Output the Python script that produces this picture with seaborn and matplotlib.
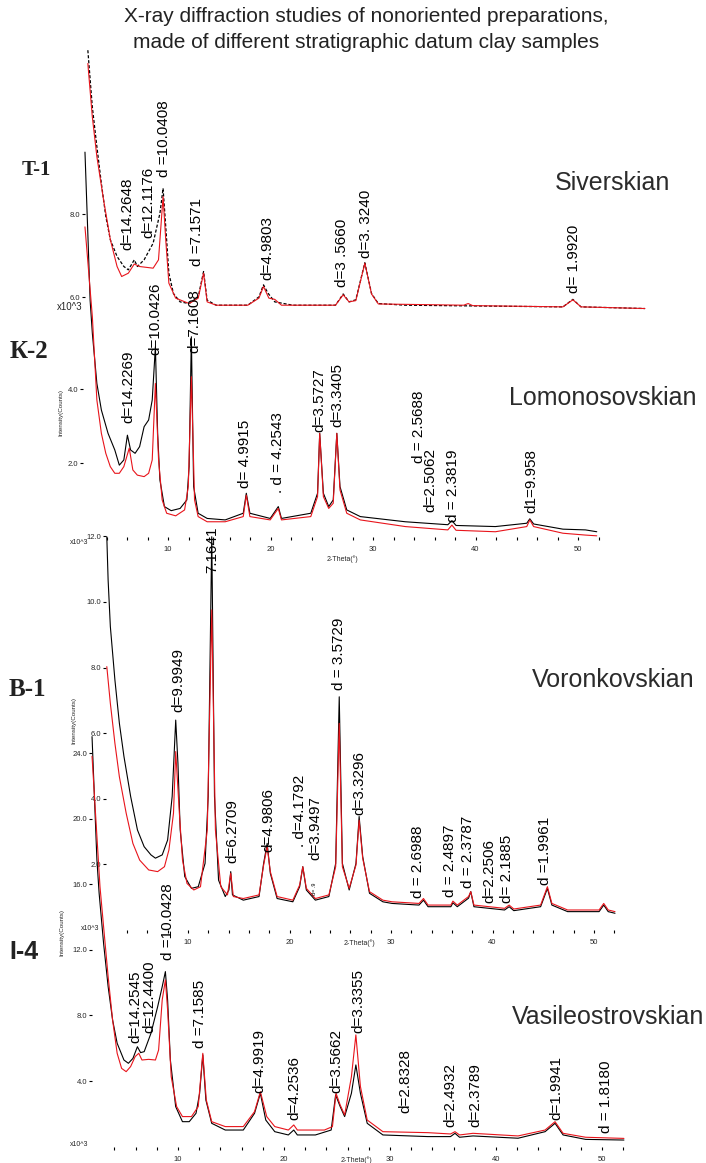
import numpy as np
import pandas as pd
import matplotlib
matplotlib.use("Agg")
import matplotlib.pyplot as plt
from matplotlib.ticker import FuncFormatter
import seaborn as sns

# -------------- figure size in pixels --------------
W, H = 706, 1163

# -------------- T-1  (Siverskian) --------------
t1_black_tt = [2.02, 2.42, 2.83, 3.23, 3.63, 4.04, 4.64, 5.25, 5.65, 6.18, 6.46, 7.06, 7.87, 8.48, 8.76, 9.00,
               9.28, 9.69, 10.29, 11.10, 11.91, 12.39, 12.71, 13.52, 16.35, 17.35, 17.76, 18.16, 18.77, 20.38,
               24.21, 24.90, 25.43, 26.03, 26.84, 27.44, 28.05, 30.47, 44.59, 45.48, 46.21, 51.94]
t1_black_int = [11.94, 10.58, 9.62, 8.74, 7.94, 7.38, 6.98, 6.74, 6.66, 6.90, 6.74, 6.90, 7.30, 8.02, 8.62, 7.70,
                6.58, 6.09, 5.89, 5.85, 6.01, 6.62, 5.93, 5.81, 5.81, 6.01, 6.30, 6.10, 5.89, 5.81,
                5.81, 6.08, 5.89, 5.94, 6.83, 6.09, 5.85, 5.81, 5.77, 5.95, 5.77, 5.73]
t1_red_tt = [2.02, 2.42, 2.83, 3.43, 4.04, 4.64, 5.05, 5.65, 6.18, 6.66, 7.87, 8.35, 8.76, 9.00, 9.28, 9.89,
             11.10, 11.91, 12.39, 12.71, 13.52, 16.35, 17.35, 17.76, 18.24, 18.77, 19.37, 24.21, 24.90, 25.43,
             26.03, 26.84, 27.44, 28.05, 35.70, 36.10, 36.50, 44.59, 45.48, 46.21, 51.94]
t1_red_int = [11.62, 10.34, 9.38, 8.34, 7.38, 6.74, 6.50, 6.58, 6.80, 6.74, 6.70, 6.90, 8.42, 7.38, 6.34, 5.98,
              5.85, 5.98, 6.58, 5.89, 5.81, 5.81, 5.98, 6.26, 5.98, 5.95, 5.81, 5.81, 6.06, 5.89,
              5.92, 6.82, 6.08, 5.84, 5.81, 5.85, 5.80, 5.77, 5.94, 5.77, 5.73]
t1_labels = ["d=14.2648", "d=12.1176", "d =10.0408", "d =7.1571", "d=4.9803", "d=3 .5660", "d=3. 3240", "d= 1.9920"]
t1_label_tt = [5.57, 7.41, 8.84, 11.80, 18.07, 24.79, 26.94, 45.58]
t1_label_y = [7.14, 7.43, 8.89, 6.75, 6.42, 6.25, 6.94, 6.10]

# -------------- K-2  (Lomonosovskian) --------------
k2_black_tt = [1.90, 2.20, 2.40, 2.62, 3.06, 3.50, 4.15, 4.81, 5.25, 5.69, 6.04, 6.35, 6.79, 7.23, 7.67, 8.11,
               8.46, 8.77, 8.99, 9.21, 9.65, 10.31, 11.18, 11.84, 12.06, 12.28, 12.50, 12.94, 13.82, 15.58,
               17.34, 17.64, 17.99, 19.97, 20.76, 21.07, 23.93, 24.59, 24.80, 25.16, 25.68, 26.12, 26.47, 26.78,
               27.44, 28.76, 33.15, 37.30, 37.70, 38.10, 41.94, 45.00, 45.30, 45.67, 48.53, 50.73, 51.83]
k2_black_int = [10.41, 8.04, 6.41, 5.51, 4.16, 3.44, 2.81, 2.36, 1.95, 2.09, 2.76, 2.36, 2.27, 2.45, 2.99, 3.17,
                3.71, 5.15, 2.81, 1.55, 0.83, 0.72, 0.78, 1.01, 1.91, 5.42, 1.37, 0.65, 0.51, 0.47,
                0.65, 1.19, 0.65, 0.51, 0.83, 0.51, 0.65, 1.19, 2.81, 1.19, 0.83, 1.01, 2.81, 1.37,
                0.74, 0.56, 0.42, 0.34, 0.45, 0.32, 0.29, 0.38, 0.50, 0.36, 0.22, 0.20, 0.15]
k2_red_tt = [1.90, 2.62, 3.06, 3.50, 3.93, 4.37, 4.81, 5.25, 5.69, 6.22, 6.57, 7.01, 7.67, 8.11, 8.46, 8.77,
             9.08, 9.43, 9.87, 10.75, 11.62, 11.98, 12.28, 12.59, 12.94, 13.82, 15.58, 17.34, 17.64, 17.99,
             19.97, 20.76, 21.07, 23.93, 24.59, 24.80, 25.16, 25.68, 26.12, 26.47, 26.78, 27.44, 28.76, 33.15,
             37.30, 37.70, 38.10, 41.94, 45.00, 45.30, 45.67, 48.53, 50.73, 51.83]
k2_red_int = [8.39, 5.96, 3.71, 2.81, 2.27, 1.91, 1.73, 1.73, 1.91, 2.41, 1.82, 1.68, 1.64, 1.73, 2.09, 4.16,
              2.09, 1.01, 0.65, 0.58, 0.74, 1.37, 4.34, 1.01, 0.56, 0.42, 0.42, 0.56, 1.14, 0.56,
              0.47, 0.78, 0.47, 0.56, 1.10, 2.81, 1.10, 0.78, 0.92, 2.81, 1.28, 0.65, 0.47, 0.29,
              0.20, 0.33, 0.19, 0.15, 0.29, 0.47, 0.29, 0.11, 0.06, 0.04]
k2_labels = ["d=14.2269", "d=10.0426", "d=7.1608", "d= 4.9915", ". d = 4.2543", "d=3.5727", "d=3.3405",
             "d = 2.5688", "d=2.5062", "d = 2.3819", "d1=9.958"]
k2_label_tt = [6.10, 8.73, 12.54, 17.51, 20.73, 24.73, 26.49, 34.50, 35.56, 37.80, 45.41]
k2_label_y = [3.09, 4.93, 4.98, 1.33, 1.20, 2.85, 2.98, 2.01, 0.68, 0.41, 0.66]

# -------------- B-1  (Voronkovskian) --------------
v1_black_tt = [2.00, 2.13, 2.35, 2.80, 3.24, 3.69, 4.35, 5.02, 5.68, 6.35, 6.79, 7.46, 7.99, 8.44, 8.79, 9.01,
               9.23, 9.68, 10.34, 11.01, 11.68, 11.99, 12.34, 12.61, 13.01, 13.67, 14.03, 14.21, 14.38, 15.45,
               17.00, 17.45, 17.80, 18.11, 18.78, 20.33, 21.00, 21.31, 21.66, 22.55, 23.88, 24.55, 24.90, 25.21,
               25.88, 26.55, 26.86, 27.21, 27.88, 29.20, 30.10, 32.76, 33.20, 33.65, 35.90, 36.10, 36.53, 37.64,
               37.86, 38.17, 41.19, 41.64, 42.10, 44.74, 45.41, 45.85, 47.40, 50.50, 50.96, 51.40, 52.07]
v1_black_int = [11.99, 10.67, 9.25, 7.62, 6.30, 5.29, 4.07, 3.05, 2.54, 2.29, 2.19, 2.29, 2.74, 4.07, 6.40, 5.08,
                3.05, 1.63, 1.27, 1.32, 2.03, 4.07, 11.99, 4.07, 1.52, 1.02, 1.22, 1.78, 1.07, 0.91,
                1.02, 2.03, 2.64, 1.73, 0.96, 0.86, 1.32, 1.93, 1.22, 0.91, 1.02, 2.03, 7.11, 2.03,
                1.22, 2.03, 3.46, 2.24, 1.12, 0.86, 0.81, 0.76, 0.91, 0.71, 0.71, 0.83, 0.71, 0.97,
                1.17, 0.71, 0.61, 0.71, 0.59, 0.71, 1.27, 0.76, 0.56, 0.56, 0.76, 0.56, 0.51]
v1_red_tt = [2.00, 2.35, 2.80, 3.24, 3.91, 4.57, 5.24, 6.13, 7.01, 7.68, 8.12, 8.57, 8.79, 9.15, 9.46, 9.90,
             10.57, 11.23, 11.90, 12.34, 12.70, 13.23, 13.89, 14.21, 14.47, 15.45, 17.00, 17.45, 17.80, 18.11,
             18.78, 20.33, 21.00, 21.31, 21.66, 22.55, 23.88, 24.55, 24.90, 25.21, 25.88, 26.55, 26.86, 27.21,
             27.88, 29.20, 30.10, 32.76, 33.20, 33.65, 35.90, 36.10, 36.53, 37.64, 37.86, 38.17, 41.19, 41.64,
             42.10, 44.74, 45.41, 45.85, 47.40, 50.50, 50.96, 51.40, 52.07]
v1_red_int = [8.03, 6.91, 5.69, 4.67, 3.56, 2.64, 2.13, 1.83, 1.78, 1.93, 2.44, 3.56, 5.44, 3.56, 2.13, 1.42,
              1.22, 1.32, 3.05, 9.76, 3.05, 1.32, 1.07, 1.73, 1.02, 0.96, 1.07, 1.98, 2.54, 1.78,
              1.02, 0.91, 1.37, 1.93, 1.27, 0.96, 1.07, 1.93, 6.30, 1.93, 1.27, 1.98, 3.35, 2.19,
              1.17, 0.91, 0.86, 0.81, 0.96, 0.76, 0.76, 0.88, 0.76, 1.02, 1.17, 0.76, 0.66, 0.76,
              0.64, 0.76, 1.32, 0.81, 0.61, 0.61, 0.81, 0.61, 0.56]
v1_labels = ["d=9.9949", "7.1641", "d=6.2709", "d=4.9806", ". d=4.1792", "d=3.9497", "d = 3.5729", "d=3.3296",
             "d = 2.6988", "d = 2.4897", "d = 2.3787", "d=2.2506", "d= 2.1885", "d =1.9961"]
v1_label_tt = [9.01, 12.36, 14.33, 17.88, 21.03, 22.51, 24.88, 26.85, 32.66, 35.81, 37.59, 39.66, 41.43, 45.17]
v1_label_y = [6.65, 10.88, 2.04, 2.38, 2.53, 2.13, 7.32, 3.51, 0.98, 1.01, 1.28, 0.82, 0.82, 1.37]

# -------------- I-4  (Vasileostrovskian) --------------
i4_black_tt = [1.89, 2.35, 2.56, 2.98, 3.41, 3.83, 4.26, 4.90, 5.32, 5.75, 6.17, 6.47, 6.81, 7.45, 8.08, 8.51,
               8.81, 9.02, 9.28, 9.78, 10.42, 11.06, 11.70, 12.04, 12.34, 12.63, 13.18, 14.46, 16.16, 17.22,
               17.77, 18.28, 19.13, 20.41, 20.92, 21.26, 22.96, 24.45, 24.87, 25.30, 25.72, 26.36, 26.78, 27.21,
               27.85, 29.33, 33.58, 35.71, 36.13, 36.56, 37.83, 42.08, 44.63, 45.57, 46.33, 48.46, 52.07]
i4_black_int = [25.0, 17.48, 15.44, 12.39, 9.75, 7.72, 6.30, 5.28, 5.08, 5.38, 6.09, 5.73, 5.79, 6.91, 8.53, 9.75,
                10.67, 8.94, 5.28, 2.44, 1.52, 1.52, 2.03, 3.25, 5.59, 2.84, 1.42, 1.01, 1.01, 2.03,
                3.25, 1.62, 0.91, 0.71, 1.01, 0.71, 0.71, 1.01, 3.15, 2.44, 1.83, 3.25, 4.98, 3.25,
                1.42, 0.71, 0.61, 0.61, 0.81, 0.57, 0.65, 0.51, 0.91, 1.42, 0.71, 0.44, 0.40]
i4_red_tt = [1.89, 2.64, 2.98, 3.41, 3.83, 4.26, 4.68, 5.11, 5.53, 5.96, 6.30, 6.60, 7.23, 7.87, 8.17, 8.51,
             8.81, 9.02, 9.36, 9.87, 10.42, 11.27, 11.91, 12.34, 12.67, 13.18, 14.46, 16.16, 17.22, 17.77,
             18.37, 19.13, 20.41, 20.92, 21.26, 23.81, 24.57, 24.91, 25.30, 25.72, 26.36, 26.78, 27.21, 27.85,
             29.33, 33.58, 35.71, 36.13, 36.56, 37.83, 42.08, 44.63, 45.57, 46.33, 48.46, 52.07]
i4_red_int = [23.8, 15.85, 13.41, 10.36, 7.72, 5.69, 4.77, 4.57, 4.88, 5.49, 5.69, 5.28, 5.32, 5.28, 5.89, 8.94,
              10.16, 8.33, 4.26, 2.44, 1.83, 1.83, 2.44, 5.69, 2.84, 1.52, 1.22, 1.22, 2.13, 3.35,
              1.83, 1.22, 1.01, 1.32, 1.01, 1.01, 1.22, 3.25, 2.54, 1.93, 4.26, 6.81, 3.66, 1.62,
              0.91, 0.85, 0.77, 0.91, 0.71, 0.81, 0.65, 1.01, 1.52, 0.81, 0.57, 0.50]
i4_labels = ["d=14.2545", "d=12.4400", "d =10.0428", "d =7.1585", "d=4.9919", "d=4.2536", "d=3.5662",
             "d=3.3355", "d=2.8328", "d=2.4932", "d=2.3789", "d=1.9941", "d = 1.8180"]
i4_label_tt = [5.94, 7.26, 9.06, 12.08, 17.64, 20.94, 24.91, 26.98, 31.42, 35.66, 38.02, 45.66, 50.38]
i4_label_y = [6.32, 6.93, 11.38, 6.01, 3.27, 1.62, 3.27, 6.93, 2.05, 1.20, 1.20, 1.62, 0.83]


sns.set_theme(style="white")
plt.rcParams['font.family'] = ['Liberation Sans', 'DejaVu Sans']

fig = plt.figure(figsize=(W / 100, H / 100), dpi=100)


def ftext(x, y, s, **kw):
    # place text using pixel coords of the picture
    fig.text(x / W, 1 - y / H, s, **kw)


def add_panel(x_left, x0, x_scale, y0, y_scale, ylim, yticks, show_x=True):
    # x0 = pixel of 2theta 0, y0 = pixel of intensity 0
    right = x0 + 53 * x_scale
    top = y0 - ylim[1] * y_scale
    bottom = y0 - ylim[0] * y_scale
    ax = fig.add_axes([x_left / W, 1 - bottom / H, (right - x_left) / W, (bottom - top) / H])
    ax.set_xlim((x_left - x0) / x_scale, 53)
    ax.set_ylim(ylim)
    ax.patch.set_alpha(0)
    for s in ax.spines.values():
        s.set_visible(False)
    ax.set_yticks(yticks)
    ax.yaxis.set_major_formatter(FuncFormatter(lambda v, p: f"{v:.1f}"))
    ax.tick_params(axis='y', left=True, length=2.5, width=0.8, color='black', labelsize=5.5, pad=1)
    if show_x:
        ax.set_xticks(np.arange(4, 53, 2))
        ax.xaxis.set_major_formatter(FuncFormatter(lambda v, p: f"{v:.0f}" if round(v) % 10 == 0 else ""))
        ax.tick_params(axis='x', bottom=True, length=2.5, width=0.8, color='black', labelsize=5.5, pad=4)
    else:
        ax.set_xticks([])
    ax.grid(False)
    return ax


def draw(ax, tt, iv, color, dashed=False):
    if dashed:
        sns.lineplot(x=tt, y=iv, ax=ax, color=color, linewidth=0.9, estimator=None, sort=False,
                     linestyle=(0, (2.5, 1.5)), clip_on=False)
    else:
        sns.lineplot(x=tt, y=iv, ax=ax, color=color, linewidth=0.8, estimator=None, sort=False, clip_on=False)
    ax.set_xlabel("")
    ax.set_ylabel("")


def peak_labels(ax, labels, tts, ys, size=11):
    for s, t, y in zip(labels, tts, ys):
        ax.text(t, y, s, rotation=90, ha='center', va='bottom', fontsize=size, color='black')


#-------------- Panel T-1 --------------
ax1 = add_panel(85, 65.3, 11.16, 546.9, 41.6, (5.0, 12.5), [6, 8], show_x=False)
draw(ax1, t1_black_tt, t1_black_int, 'black', dashed=True)
draw(ax1, t1_red_tt, t1_red_int, '#e8141b')
peak_labels(ax1, t1_labels, t1_label_tt, t1_label_y)

#-------------- Panel K-2 --------------
ax2 = add_panel(83, 65.5, 10.25, 537.3, 37.0, (0, 10.6), [2, 4])
draw(ax2, k2_black_tt, k2_black_int, 'black')
draw(ax2, k2_red_tt, k2_red_int, '#e8141b')
peak_labels(ax2, k2_labels, k2_label_tt, k2_label_y)

#-------------- Panel B-1 --------------
ax3 = add_panel(106, 86.5, 10.15, 930.0, 32.8, (0, 12.3), [2, 4, 6, 8, 10, 12])
draw(ax3, v1_black_tt, v1_black_int, 'black')
draw(ax3, v1_red_tt, v1_red_int, '#e8141b')
peak_labels(ax3, v1_labels, v1_label_tt, v1_label_y)
ax3.text(22.51, 1.07, "d= .9", rotation=90, ha='center', va='bottom', fontsize=4, color='black')

#-------------- Panel I-4 --------------
ax4 = add_panel(92, 72.0, 10.6, 1146.6, 16.4, (0, 25.5), [4, 8, 12, 16, 20, 24])
draw(ax4, i4_black_tt, i4_black_int, 'black')
draw(ax4, i4_red_tt, i4_red_int, '#e8141b')
peak_labels(ax4, i4_labels, i4_label_tt, i4_label_y)

#-------------- Titles and side texts --------------
ftext(366, 17, "X-ray diffraction studies of nonoriented preparations,", ha='center', va='center', fontsize=15, color='#222222')
ftext(366, 43, "made of different stratigraphic datum clay samples", ha='center', va='center', fontsize=15, color='#222222')

name_color = '#2b2b2b'
ftext(613, 183, "Siverskian", ha='center', va='center', fontsize=18, color=name_color)
ftext(603, 398, "Lomonosovskian", ha='center', va='center', fontsize=18, color=name_color)
ftext(613, 680, "Voronkovskian", ha='center', va='center', fontsize=18, color=name_color)
ftext(608, 1017, "Vasileostrovskian", ha='center', va='center', fontsize=18, color=name_color)

ftext(36, 170, "T-1", ha='center', va='center', fontsize=15, fontweight='bold', family='Liberation Serif', color='#222222')
ftext(29, 352, "К-2", ha='center', va='center', fontsize=18, fontweight='bold', family='Liberation Serif', color='#222222')
ftext(27, 690, "В-1", ha='center', va='center', fontsize=18, fontweight='bold', family='Liberation Serif', color='#222222')
ftext(24, 952, "I-4", ha='center', va='center', fontsize=18, fontweight='bold', color='#222222')

ftext(70, 307, "x10^3", ha='center', va='center', fontsize=7)
ftext(79, 543, "x10^3", ha='center', va='center', fontsize=5)
ftext(90, 928, "x10^3", ha='center', va='center', fontsize=5)
ftext(79, 1144, "x10^3", ha='center', va='center', fontsize=5)

ftext(61, 412, "Intensity(Counts)", rotation=90, ha='center', va='center', fontsize=4.5)
ftext(74, 720, "Intensity(Counts)", rotation=90, ha='center', va='center', fontsize=4.5)
ftext(62, 933, "Intensity(Counts)", rotation=90, ha='center', va='center', fontsize=4.5)

ftext(342, 559, "2-Theta(°)", ha='center', va='center', fontsize=5)
ftext(359, 943, "2-Theta(°)", ha='center', va='center', fontsize=5)
ftext(356, 1160, "2-Theta(°)", ha='center', va='center', fontsize=5)

fig.savefig("out.png", dpi=100)
